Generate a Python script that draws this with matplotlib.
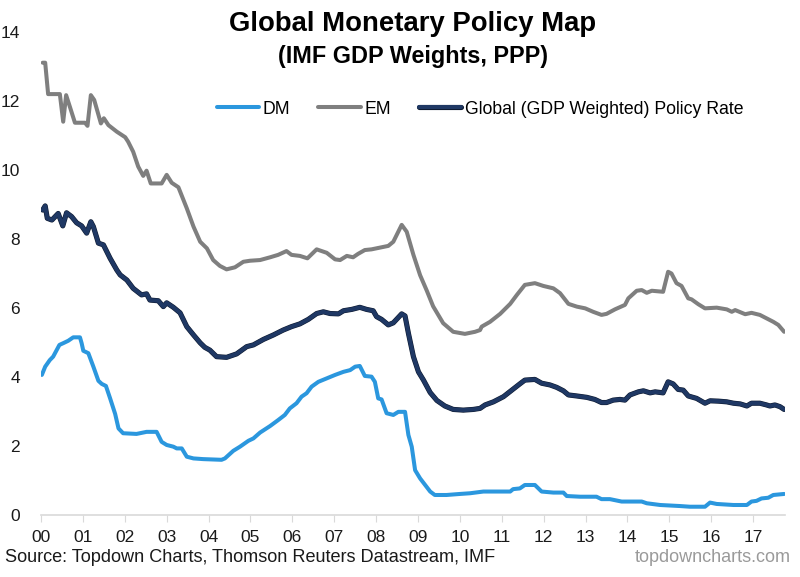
import matplotlib
matplotlib.use("Agg")
import matplotlib.pyplot as plt
import matplotlib.patheffects as pe

plt.rcParams['font.family'] = ['Liberation Sans', 'DejaVu Sans']

# Years since Jan 2000 (fractional) and policy rates (%)
em_x = [0.04, 0.10, 0.17, 0.45, 0.53, 0.60, 0.69, 0.81, 1.05, 1.11, 1.19, 1.27, 1.43, 1.50, 1.61, 1.81,
        2.01, 2.08, 2.20, 2.32, 2.44, 2.52, 2.62, 2.88, 3.00, 3.12, 3.28, 3.48, 3.64, 3.80, 3.96, 4.11,
        4.27, 4.43, 4.63, 4.83, 4.99, 5.23, 5.47, 5.66, 5.86, 5.98, 6.18, 6.36, 6.58, 6.82, 7.02, 7.14,
        7.30, 7.45, 7.57, 7.73, 7.89, 8.09, 8.29, 8.41, 8.61, 8.73, 8.89, 9.05, 9.21, 9.36, 9.60, 9.84,
        10.12, 10.36, 10.48, 10.52, 10.72, 10.96, 11.20, 11.36, 11.55, 11.79, 11.99, 12.23, 12.39, 12.59,
        12.79, 12.99, 13.18, 13.38, 13.50, 13.70, 13.94, 14.02, 14.22, 14.34, 14.46, 14.58, 14.85, 14.97,
        15.05, 15.17, 15.29, 15.45, 15.53, 15.69, 15.85, 16.13, 16.37, 16.49, 16.57, 16.81, 16.96, 17.16,
        17.32, 17.48, 17.60, 17.74]
em_y = [13.11, 13.11, 12.20, 12.20, 11.40, 12.17, 11.83, 11.37, 11.37, 11.28, 12.17, 12.03, 11.35, 11.50, 11.30, 11.11,
        10.95, 10.82, 10.53, 10.10, 9.83, 9.98, 9.61, 9.61, 9.86, 9.63, 9.50, 8.89, 8.36, 7.92, 7.73, 7.39,
        7.22, 7.12, 7.18, 7.34, 7.37, 7.39, 7.47, 7.54, 7.65, 7.54, 7.51, 7.44, 7.70, 7.60, 7.41, 7.39,
        7.51, 7.47, 7.57, 7.68, 7.70, 7.75, 7.80, 7.92, 8.41, 8.21, 7.54, 6.95, 6.50, 6.05, 5.56, 5.31,
        5.25, 5.31, 5.36, 5.46, 5.60, 5.83, 6.12, 6.38, 6.67, 6.72, 6.64, 6.57, 6.43, 6.12,
        6.04, 5.99, 5.89, 5.80, 5.83, 5.96, 6.09, 6.28, 6.50, 6.52, 6.44, 6.50, 6.47, 7.05,
        7.00, 6.72, 6.64, 6.28, 6.25, 6.11, 5.99, 6.01, 5.96, 5.89, 5.94, 5.82, 5.86, 5.80,
        5.70, 5.60, 5.51, 5.31]

gl_x = [0.04, 0.10, 0.15, 0.26, 0.41, 0.52, 0.61, 0.73, 0.85, 0.97, 1.09, 1.19, 1.25, 1.37, 1.49, 1.65,
        1.81, 1.89, 2.05, 2.20, 2.40, 2.52, 2.60, 2.80, 2.92, 3.00, 3.16, 3.32, 3.48, 3.64, 3.80, 3.91,
        4.03, 4.19, 4.43, 4.67, 4.91, 5.07, 5.31, 5.55, 5.78, 5.98, 6.18, 6.38, 6.58, 6.74, 6.90, 7.10,
        7.22, 7.42, 7.61, 7.77, 7.93, 8.01, 8.13, 8.29, 8.41, 8.61, 8.69, 8.77, 8.89, 9.01, 9.13, 9.29,
        9.45, 9.64, 9.84, 10.08, 10.32, 10.48, 10.60, 10.80, 11.04, 11.24, 11.43, 11.55, 11.79, 11.95,
        12.15, 12.31, 12.47, 12.59, 12.79, 13.03, 13.22, 13.38, 13.50, 13.66, 13.82, 13.94, 14.06, 14.26,
        14.38, 14.54, 14.66, 14.85, 14.97, 15.09, 15.21, 15.33, 15.45, 15.65, 15.85, 15.97, 16.17, 16.37,
        16.53, 16.69, 16.85, 16.96, 17.16, 17.32, 17.40, 17.52, 17.64, 17.74]
gl_y = [8.84, 8.96, 8.60, 8.55, 8.74, 8.38, 8.76, 8.65, 8.47, 8.38, 8.17, 8.50, 8.36, 7.88, 7.83, 7.44,
        7.10, 6.96, 6.81, 6.57, 6.38, 6.41, 6.23, 6.21, 6.04, 6.15, 6.02, 5.86, 5.46, 5.22, 4.99, 4.86,
        4.78, 4.59, 4.57, 4.67, 4.88, 4.93, 5.09, 5.22, 5.36, 5.46, 5.54, 5.67, 5.84, 5.89, 5.84, 5.83,
        5.92, 5.96, 6.02, 5.96, 5.92, 5.75, 5.67, 5.51, 5.57, 5.83, 5.77, 5.27, 4.59, 4.15, 3.91, 3.55,
        3.32, 3.16, 3.06, 3.04, 3.06, 3.09, 3.19, 3.28, 3.43, 3.62, 3.80, 3.91, 3.93, 3.82,
        3.77, 3.70, 3.60, 3.48, 3.45, 3.41, 3.35, 3.26, 3.26, 3.33, 3.35, 3.33, 3.48, 3.57,
        3.60, 3.54, 3.57, 3.54, 3.86, 3.80, 3.64, 3.62, 3.45, 3.38, 3.24, 3.31, 3.30, 3.28,
        3.24, 3.22, 3.16, 3.24, 3.24, 3.19, 3.16, 3.19, 3.14, 3.06]

dm_x = [0.02, 0.10, 0.21, 0.29, 0.44, 0.53, 0.65, 0.77, 0.93, 0.97, 1.01, 1.13, 1.25, 1.37, 1.45, 1.55,
        1.65, 1.77, 1.85, 1.96, 2.28, 2.52, 2.76, 2.88, 3.00, 3.16, 3.24, 3.36, 3.48, 3.64, 3.87, 4.31,
        4.39, 4.59, 4.75, 4.95, 5.07, 5.23, 5.47, 5.66, 5.82, 5.94, 6.10, 6.22, 6.34, 6.46, 6.62, 6.82,
        7.02, 7.22, 7.38, 7.50, 7.61, 7.73, 7.89, 7.97, 8.05, 8.13, 8.25, 8.41, 8.53, 8.69, 8.77, 8.85,
        8.93, 9.05, 9.17, 9.29, 9.40, 9.68, 10.00, 10.24, 10.56, 11.20, 11.27, 11.43, 11.55, 11.79,
        11.95, 12.23, 12.47, 12.55, 12.87, 13.26, 13.38, 13.58, 13.86, 14.34, 14.46, 14.78, 15.25, 15.49,
        15.85, 15.97, 16.13, 16.53, 16.85, 16.96, 17.08, 17.20, 17.36, 17.48, 17.74]
dm_y = [4.06, 4.30, 4.49, 4.59, 4.93, 4.98, 5.05, 5.15, 5.15, 4.98, 4.76, 4.69, 4.30, 3.89, 3.80, 3.74,
        3.38, 2.93, 2.51, 2.37, 2.35, 2.41, 2.41, 2.12, 2.03, 1.98, 1.93, 1.93, 1.69, 1.64, 1.62, 1.60,
        1.64, 1.86, 1.98, 2.15, 2.22, 2.39, 2.58, 2.75, 2.90, 3.09, 3.24, 3.43, 3.53, 3.72, 3.86, 3.96,
        4.06, 4.15, 4.20, 4.30, 4.32, 4.03, 4.01, 3.86, 3.38, 3.35, 2.95, 2.90, 2.99, 2.99, 2.32, 1.98,
        1.30, 1.06, 0.87, 0.68, 0.58, 0.58, 0.61, 0.63, 0.68, 0.68, 0.75, 0.77, 0.87, 0.87,
        0.68, 0.65, 0.65, 0.55, 0.53, 0.53, 0.46, 0.46, 0.39, 0.39, 0.34, 0.29, 0.26, 0.24,
        0.24, 0.36, 0.32, 0.29, 0.29, 0.39, 0.41, 0.48, 0.50, 0.58, 0.61]

year_ticks = list(range(0, 18))
year_labels = ["%02d" % y for y in year_ticks]
y_ticks = [0, 2, 4, 6, 8, 10, 12, 14]

fig = plt.figure(figsize=(8, 5.77), dpi=100)
ax = fig.add_axes([41/800, 1 - 515/577, (785-41)/800, (515-32)/577])

lw = 2.9
ax.plot(dm_x, dm_y, color='#2B97DE', lw=lw, label='DM', solid_capstyle='round')
ax.plot(em_x, em_y, color='#7F7F7F', lw=lw, label='EM', solid_capstyle='round')
ax.plot(gl_x, gl_y, color='#1F3864', lw=lw, label='Global (GDP Weighted) Policy Rate',
        solid_capstyle='round',
        path_effects=[pe.Stroke(linewidth=lw + 0.8, foreground='#0E1A30'), pe.Normal()])

ax.set_xlim(0, 17.76)
ax.set_ylim(0, 14)
ax.set_xticks(year_ticks)
ax.set_xticklabels(year_labels)
ax.set_yticks(y_ticks)
ax.tick_params(axis='x', direction='out', length=5, color='#D9D9D9', labelsize=12.5, pad=6, labelcolor='#1a1a1a')
ax.tick_params(axis='y', length=0, labelsize=12.5, pad=15, labelcolor='#1a1a1a')
for s in ['top', 'right', 'left']:
    ax.spines[s].set_visible(False)
ax.spines['bottom'].set_color('#D9D9D9')
ax.spines['bottom'].set_linewidth(1.2)

fig.text(413/800, 1 - 24/577, 'Global Monetary Policy Map', ha='center', va='center',
         fontsize=19.8, fontweight='bold')
fig.text(413/800, 1 - 56/577, '(IMF GDP Weights, PPP)', ha='center', va='center',
         fontsize=16.8, fontweight='bold')

leg = ax.legend(loc='center', bbox_to_anchor=(480/800, 1 - 109/577), bbox_transform=fig.transFigure,
                ncol=3, frameon=False, fontsize=12.7, handlelength=2.4, handletextpad=0.2,
                columnspacing=1.6)

fig.text(5/800, 1 - 557/577, 'Source: Topdown Charts, Thomson Reuters Datastream, IMF',
         ha='left', va='center', fontsize=13.1, color='#1a1a1a')
fig.text(791/800, 1 - 557/577, 'topdowncharts.com', ha='right', va='center', fontsize=13,
         color='#9a9a9a')

fig.savefig('out.png', dpi=100)
